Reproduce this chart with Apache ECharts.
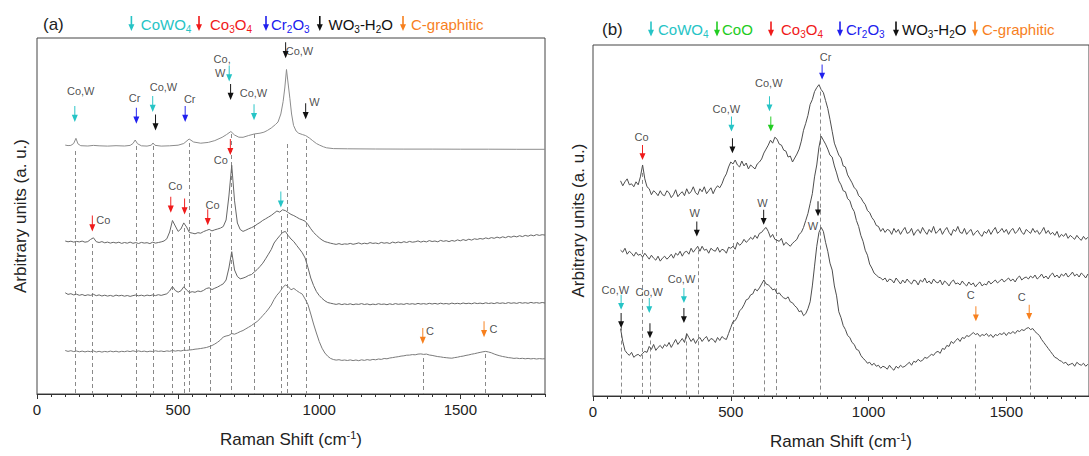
<!DOCTYPE html>
<html>
<head>
<meta charset="utf-8">
<script src="https://cdn.jsdelivr.net/npm/echarts@6.0.0/dist/echarts.min.js"></script>
<style>
  html, body { margin: 0; padding: 0; background: #fff; }
  #chart { width: 1089px; height: 456px; }
</style>
</head>
<body>
<div id="chart"></div>
<script>
// ---------------- data (Raman shift in cm-1, intensity in arbitrary units) ----------------

// x-axis labels shown on both panels
const shiftTicks = [0, 500, 1000, 1500];

// panel (a): top spectrum, smooth, listed as [shift, intensity]
const specA1 = [[100,248.9],[110,248.4],[120,248.6],[130,250.5],[138,255.7],[145,250.2],[155,248.3],[180,248.0],
  [200,248.6],[220,248.2],[250,247.9],[280,248.3],[310,248.0],[330,248.6],[340,250.5],[348,254],[356,250.3],
  [370,248.2],[390,247.9],[405,248.8],[411,251],[418,248.7],[440,247.9],[470,248.2],[500,248.8],[520,250.5],
  [539,255],[555,252.0],[580,250.8],[607,251.6],[630,253.4],[656,256.7],[672,259.5],[687,262.5],[700,259.0],
  [715,256.8],[730,256.7],[750,258.5],[771,260.1],[790,260.8],[804,261.8],[816,263.5],[830,266],[845,269.5],
  [854,272],[864,280],[872,292.3],[878,306],[884,324.5],[890,310],[896,295.7],[902,280],[909,268.6],[918,263],
  [927,260.8],[940,259.5],[952,258.4],[965,256],[977,253.3],[990,250.5],[1001,248.9],[1015,247.2],[1026,246.2],
  [1050,245.4],[1100,245.2],[1200,245.0],[1300,244.9],[1400,244.9],[1500,244.8],[1600,244.8],[1700,244.7],[1800,244.7]];

// panel (a): spectra sampled every 10 cm-1 starting at 100 cm-1
const A_START = 100, A_STEP = 10;
const specA2 = [
  153.0,152.2,152.8,151.9,152.6,152.1,152.9,151.8,152.4,154.6,
  156.2,152.3,151.5,152.4,151.2,151.9,150.9,151.7,151.0,151.8,
  150.6,151.5,150.8,151.9,150.7,151.4,150.5,151.6,150.9,151.3,
  150.4,151.8,150.9,151.5,152.1,153.0,155.2,162.0,173.5,168.0,
  162.6,165.0,171.1,167.0,161.5,160.9,160.2,161.3,160.8,162.4,
  163.5,164.6,163.1,164.2,165.0,165.9,167.5,174.0,198.0,228.7,
  193.2,171.0,164.5,162.6,163.8,165.2,166.4,167.7,169.8,171.5,
  173.6,175.2,176.9,178.6,180.8,183.0,181.9,184.2,183.4,181.5,
  179.6,178.4,176.8,175.2,174.1,172.8,169.5,165.3,161.6,158.8,
  156.2,154.0,152.4,151.6,150.8,150.2,149.6,150.4,149.5,150.1,
  149.8,150.6,149.7,150.3,151.1,150.0,150.8,150.2,151.4,150.6,
  151.0,150.3,151.6,150.8,151.3,150.5,151.9,151.1,152.0,151.2,
  152.3,151.5,152.6,151.8,152.2,153.1,151.9,152.8,152.1,153.4,
  152.5,153.0,152.2,153.6,152.7,153.3,152.4,153.5,152.8,154.1,
  153.2,154.4,153.5,154.8,153.9,155.2,154.6,155.5,154.9,156.1,
  155.3,156.4,155.7,156.9,156.0,157.2,156.3,157.6,156.8,157.9,
  157.1,158.3,157.4,158.6,157.8,159.0,158.2,159.4,158.6,159.3,
  158.9];
const specA3 = [
  101.2,99.6,100.3,99.1,99.8,98.7,99.5,98.4,99.2,98.6,
  99.7,98.3,99.1,98.0,98.8,97.9,98.6,97.7,98.9,98.1,
  98.7,97.8,98.5,97.6,98.4,99.0,98.2,98.8,98.0,98.9,
  98.3,99.1,98.4,99.3,98.6,99.4,100.2,103.0,107.5,103.5,
  101.8,103.2,107.2,104.0,101.5,102.3,101.7,103.0,102.4,103.6,
  105.5,106.2,104.4,105.8,107.0,108.6,110.2,114.0,126.0,142.3,
  124.0,117.5,115.2,115.9,117.0,118.6,119.5,122.0,124.4,127.5,
  130.8,135.2,139.8,144.5,151.0,154.8,158.2,161.5,162.6,158.5,
  155.0,152.4,148.6,145.0,141.2,136.0,126.5,116.0,108.5,102.5,
  98.5,95.6,93.2,91.5,90.8,90.2,89.6,90.3,89.4,90.1,
  89.5,90.2,89.3,90.0,89.6,90.4,89.5,90.1,89.2,89.9,
  89.4,90.3,89.6,90.0,89.3,90.2,89.5,90.4,89.7,90.1,
  89.6,90.5,89.8,90.3,89.7,90.6,89.9,90.4,89.8,90.7,
  90.0,90.6,89.9,90.8,90.1,90.5,89.9,90.9,90.2,90.7,
  90.1,91.0,90.3,90.8,90.2,91.1,90.4,90.9,90.3,91.2,
  90.5,91.0,90.4,91.3,90.6,91.1,90.5,91.4,90.7,91.2,
  90.6,91.5,90.8,91.3,90.7,91.6,90.9,91.4,90.8,91.5,
  91.0];
const specA4 = [
  43.5,42.6,43.3,42.4,43.0,42.2,42.9,42.1,42.8,42.3,
  43.1,42.0,42.7,41.9,42.6,42.1,42.9,42.2,42.8,42.0,
  42.7,42.3,43.0,42.4,43.2,42.5,43.1,42.4,42.9,42.2,
  42.8,42.5,43.2,42.6,43.0,42.4,43.1,42.7,43.5,42.9,
  43.4,43.0,43.8,43.6,44.0,44.3,44.8,45.1,45.5,46.0,
  46.5,47.4,48.5,50.0,51.8,54.0,57.0,58.0,58.6,60.5,
  59.8,61.0,62.4,63.5,65.2,66.8,68.5,70.6,72.5,75.2,
  78.4,81.5,85.0,89.0,94.5,98.8,102.0,106.2,109.1,107.5,
  104.2,105.6,103.4,101.5,99.9,95.0,89.5,80.0,70.0,61.0,
  52.5,45.8,41.0,37.8,35.6,34.5,33.9,34.3,33.6,34.0,
  33.5,34.1,33.4,34.0,33.3,34.2,33.6,34.4,33.8,34.6,
  34.2,35.0,34.6,35.5,35.2,36.0,36.4,36.9,37.3,37.9,
  38.2,38.8,38.9,39.4,39.2,39.9,40.1,39.6,39.9,39.0,
  38.6,38.0,37.4,37.1,36.6,36.3,36.0,35.8,36.4,36.8,
  37.5,37.9,38.6,39.1,39.8,40.3,41.0,41.6,42.2,42.6,
  42.0,41.2,40.0,39.0,38.2,37.5,37.0,36.4,36.1,35.6,
  35.9,35.4,35.7,35.2,35.6,35.1,35.5,35.0,35.4,35.1,
  35.3];

// panel (b): spectra sampled every 8 cm-1 starting at 100 cm-1
const B_START = 100, B_STEP = 8;
const specB1 = [
  217,212,216,219,213,214,211,216,213,221,
  233,219,211,209,203,207,205,202,207,203,
  202,207,205,200,203,208,201,204,206,202,
  209,204,206,211,205,203,209,206,211,204,
  207,210,204,209,212,210,214,220,224,231,
  236,234,238,233,231,237,232,235,229,233,
  231,229,234,236,239,245,249,253,258,255,
  261,259,254,253,248,247,241,242,236,240,
  244,249,257,268,275,283,294,299,307,311,
  314,309,306,298,290,279,267,255,249,243,
  240,232,231,223,219,215,210,208,202,200,
  196,193,187,185,180,177,172,171,166,169,
  165,168,167,163,169,165,
  168,163,167,170,164,165,169,162,166,168,
  164,170,166,163,168,165,171,164,166,169,
  163,167,170,165,162,168,166,171,165,164,
  169,163,166,168,162,165,167,163,161,166,
  164,168,163,167,170,164,166,169,165,168,
  163,167,169,164,166,170,165,163,168,166,
  164,169,165,167,163,166,170,164,167,163,
  165,162,166,160,163,161,164,159,162,160,
  158,162,159,157,161,158,160];
const specB2 = [
  147,145,149,143,146,144,141,145,142,143,
  140,144,141,138,142,139,137,141,136,139,
  141,138,140,143,139,144,142,146,141,145,
  146,143,149,145,148,151,146,151,147,148,
  144,149,147,146,150,145,148,147,144,150,
  149,151,148,155,152,154,158,155,157,160,
  158,162,159,164,165,168,170,166,160,163,
  158,157,156,159,152,155,153,151,154,156,
  158,163,165,170,177,184,194,204,221,233,
  251,262,258,254,249,243,241,232,225,217,
  213,207,206,199,197,190,186,177,171,162,
  156,147,142,133,129,124,122,120,119,117,
  119,115,118,117,114,119,
  116,113,117,114,118,115,113,117,116,112,
  117,115,119,114,116,113,118,115,114,117,
  112,116,114,111,115,117,113,114,112,116,
  113,111,115,112,114,110,113,115,111,113,
  112,116,113,115,117,114,116,118,115,117,
  119,116,118,115,119,121,117,119,120,118,
  121,119,122,118,120,123,119,121,118,122,
  124,120,122,119,123,121,124,120,122,125,
  121,123,120,124,122,119,123];
const specB3 = [
  68,55,46,43,41,44,39,41,42,40,
  43,45,44,50,47,52,46,49,51,48,
  52,50,54,49,53,57,52,55,58,54,
  63,59,55,58,53,57,59,55,58,60,
  55,58,57,54,59,56,60,58,57,63,
  69,75,76,80,86,88,92,97,98,102,
  103,108,106,109,113,117,113,112,110,107,
  108,103,104,101,99,98,100,95,94,91,
  89,85,86,81,83,88,95,111,131,151,
  165,170,166,155,146,134,127,111,101,85,
  79,71,67,61,59,54,52,47,46,41,
  38,36,33,34,31,33,30,31,28,30,
  29,27,31,28,26,30,28,31,29,30,
  32,34,31,35,34,37,35,36,39,38,
  40,42,41,44,45,43,48,47,51,50,
  55,53,56,58,55,59,58,61,60,62,
  64,62,63,60,62,61,63,60,62,59,
  62,61,63,62,64,61,64,63,65,63,
  66,65,67,66,68,69,67,68,65,63,
  61,57,54,51,48,45,42,39,38,36,
  35,33,34,31,32,33,30,34,32,31,
  33,30,32];

// dashed guide lines: [shift, top of the line]
const guidesA = [[136,243],[194,150],[351,248],[411,248],[480,164],[521,166],[539,251],[613,161],[690,260],
  [771,260],[866,178],[887,250],[953,255],[1369,36],[1589,40]];
const guidesB = [[102,70],[180,225],[208,56],[338,62],[382,147],[510,232],[622,157],[664,250],[826,307],
  [1386,52],[1587,60]];

// band markers (arrow tips) per phase: [shift, intensity]
const arrowsA_CoWO4 = [[134,272],[410,282],[681,312.6],[769,273.7],[864,186.4]];
const arrowsA_Co3O4 = [[196,162.6],[474,181.3],[523,179.6],[605,168.7],[685,238.9]];
const arrowsA_Cr2O3 = [[352,270.3],[525,272]];
const arrowsA_WO3 = [[420,263.5],[686,294],[881,335.7],[952,274.7]];
const arrowsA_C = [[1367,50],[1584,56.7]];

const arrowsB_CoWO4 = [[502.4,266.8],[640.4,287.1],[102,87.1],[204.2,83.7],[329.9,93.9]];
const arrowsB_CoO = [[645.3,266.8]];
const arrowsB_Co3O4 = [[179.6,238]];
const arrowsB_Cr2O3 = [[831.4,319.3]];
const arrowsB_WO3 = [[506,244.8],[376.7,160.9],[619.4,172.7],[816.6,181.2],[102,68.5],[206.7,58.3],[329.9,73.6]];
const arrowsB_C = [[1389.5,75.3],[1583,77]];

// band assignments written next to the markers: [shift, intensity, text]
const tagsA = [[155,303,'Co,W'],[346,296.4,'Cr'],[448,307.2,'Co,W'],[541,294.7,'Cr'],[656,334.7,'Co,'],[649,321,'W'],
  [767,300.8,'Co,W'],[930,343,'Co,W'],[983,292.3,'W'],[235,173.8,'Co'],[490,208.4,'Co'],[622,188.7,'Co'],
  [651,233.8,'Co'],[1392,62.8,'C'],[1617,65.2,'C']];
const tagsB = [[176,261.7,'Co'],[484,289.8,'Co,W'],[638,316,'Co,W'],[843.7,341.4,'Cr'],[369.3,184.6,'W'],
  [614.5,194.8,'W'],[798,171.7,'W'],[81,106.6,'Co,W'],[204,105,'Co,W'],[321.3,118.5,'Co,W'],
  [1371,101.5,'C'],[1556,99.8,'C']];

// phases named in each panel's key
const phasesA = ['CoWO4', 'Co3O4', 'Cr2O3', 'WO3-H2O', 'C-graphitic'];
const phasesB = ['CoWO4', 'CoO', 'Co3O4', 'Cr2O3', 'WO3-H2O', 'C-graphitic'];

// ---------------- styling ----------------
const FONT = '"Liberation Sans", Arial, Helvetica, sans-serif';
const TEXT = '#222';
const PHASE_COLOR = {
  'CoWO4': '#26c4c6', 'CoO': '#22cc22', 'Co3O4': '#f01a1a',
  'Cr2O3': '#2020ee', 'WO3-H2O': '#111111', 'C-graphitic': '#f7801e'
};
const ARROW_D = 'M4.2,0L5.8,0L5.8,11L10,11L5,20L0,11L4.2,11Z';

const toPairs = (vals, start, step) => vals.map((v, i) => [start + i * step, v]);
const chemRich = name => name.replace(/(\d)/g, '{s|$1}');

function spectrum(data, axis, color) {
  return {
    type: 'line', xAxisIndex: axis * 2, yAxisIndex: axis, data: data,
    showSymbol: false, symbol: 'none', silent: true, z: 3,
    lineStyle: { color: color, width: 1 }
  };
}
function guides(list, axis) {
  return {
    type: 'lines', coordinateSystem: 'cartesian2d', xAxisIndex: axis * 2, yAxisIndex: axis,
    silent: true, z: 1,
    lineStyle: { color: '#8a8a8a', width: 1, type: [4, 3], opacity: 1, curveness: 0 },
    data: list.map(g => ({ coords: [[g[0], g[1]], [g[0], 0]] }))
  };
}
function arrows(list, phase, axis, h) {
  return {
    type: 'scatter', xAxisIndex: axis * 2, yAxisIndex: axis, data: list, silent: true, z: 5,
    symbol: 'path://' + ARROW_D, symbolSize: [6, h], symbolOffset: [0, -h / 2],
    itemStyle: { color: PHASE_COLOR[phase], opacity: 1 }
  };
}
function tags(list, axis) {
  return {
    type: 'scatter', xAxisIndex: axis * 2, yAxisIndex: axis, silent: true, z: 6,
    symbolSize: 1, itemStyle: { color: 'rgba(0,0,0,0)' },
    data: list.map(t => ({ value: [t[0], t[1]], name: t[2] })),
    label: { show: true, position: 'inside', formatter: '{b}', color: TEXT, fontSize: 11, fontFamily: FONT }
  };
}
function xAxes(grid, gap) {
  return [{
    type: 'value', gridIndex: grid, position: 'bottom', min: 0, max: 1800, interval: 500,
    axisLine: { show: true, lineStyle: { color: '#333', width: 1 } },
    axisTick: { show: true, inside: false, length: 5, lineStyle: { color: '#333' } },
    axisLabel: {
      show: true, fontSize: 15, color: TEXT, fontFamily: FONT, margin: 8, showMaxLabel: false,
      formatter: v => (shiftTicks.indexOf(v) >= 0 ? String(v) : '')
    },
    splitLine: { show: false },
    name: 'Raman Shift (cm{sup|-1})', nameLocation: 'middle', nameGap: gap,
    nameTextStyle: {
      fontSize: 17, color: TEXT, fontFamily: FONT, lineHeight: 20,
      rich: { sup: { fontSize: 11, color: TEXT, fontFamily: FONT, verticalAlign: 'top', lineHeight: 11 } }
    }
  }, {
    type: 'value', gridIndex: grid, position: 'bottom', min: 0, max: 1800, interval: 50,
    axisLine: { show: false }, axisLabel: { show: false }, splitLine: { show: false },
    axisTick: { show: true, inside: false, length: 3, lineStyle: { color: '#333' } }
  }];
}
function yAxis(grid, max, gap) {
  return {
    type: 'value', gridIndex: grid, min: 0, max: max,
    axisLine: { show: false }, axisTick: { show: false }, axisLabel: { show: false }, splitLine: { show: false },
    name: 'Arbitrary units (a. u.)', nameLocation: 'middle', nameGap: gap,
    nameTextStyle: { fontSize: 17, color: TEXT, fontFamily: FONT }
  };
}
// panel key: small arrow followed by the phase name
function arrowPoints(cx, top, h) {
  const head = top + h * 0.55;
  return [[cx - 0.8, top], [cx + 0.8, top], [cx + 0.8, head], [cx + 3, head], [cx, top + h],
          [cx - 3, head], [cx - 0.8, head]];
}
function key(phases, arrowX, textX, y) {
  const els = [];
  phases.forEach((p, i) => {
    const c = PHASE_COLOR[p];
    els.push({
      type: 'polygon', silent: true,
      shape: { points: arrowPoints(arrowX[i], y - 8, 15) },
      style: { fill: c }
    });
    els.push({
      type: 'text', silent: true, x: textX[i], y: y,
      style: {
        text: chemRich(p), fill: c, fontSize: 15, fontFamily: FONT, lineHeight: 20,
        verticalAlign: 'middle', align: 'left',
        rich: { s: { fontSize: 10, fontFamily: FONT, fill: c, verticalAlign: 'bottom', lineHeight: 11 } }
      }
    });
  });
  return els;
}

const graphic = [
  { type: 'text', silent: true, x: 43, y: 24,
    style: { text: '(a)', fill: TEXT, fontSize: 17, fontFamily: FONT, verticalAlign: 'middle' } },
  { type: 'text', silent: true, x: 602, y: 29.5,
    style: { text: '(b)', fill: TEXT, fontSize: 17, fontFamily: FONT, verticalAlign: 'middle' } }
].concat(
  key(phasesA, [131.4, 199, 266, 319.8, 403], [140.8, 210, 271, 328.5, 411], 24),
  key(phasesB, [651, 717, 771, 840, 896, 975], [658, 722, 781, 846, 902, 982], 29.5)
);

const option = {
  backgroundColor: '#ffffff',
  animation: false,
  grid: [
    { left: 37, top: 38, width: 508, height: 356, show: true, borderColor: '#444', borderWidth: 1 },
    { left: 593, top: 45, width: 507, height: 354, show: true, borderColor: '#444', borderWidth: 1 }
  ],
  xAxis: xAxes(0, 35).concat(xAxes(1, 35)),
  yAxis: [yAxis(0, 356, 8), yAxis(1, 354, 6)],
  graphic: graphic,
  series: [
    guides(guidesA, 0),
    guides(guidesB, 1),
    spectrum(specA1, 0, '#8c8c8c'),
    spectrum(toPairs(specA2, A_START, A_STEP), 0, '#676767'),
    spectrum(toPairs(specA3, A_START, A_STEP), 0, '#676767'),
    spectrum(toPairs(specA4, A_START, A_STEP), 0, '#7a7a7a'),
    spectrum(toPairs(specB1, B_START, B_STEP), 1, '#4e4e4e'),
    spectrum(toPairs(specB2, B_START, B_STEP), 1, '#4e4e4e'),
    spectrum(toPairs(specB3, B_START, B_STEP), 1, '#4e4e4e'),
    arrows(arrowsA_CoWO4, 'CoWO4', 0, 16),
    arrows(arrowsA_Co3O4, 'Co3O4', 0, 16),
    arrows(arrowsA_Cr2O3, 'Cr2O3', 0, 16),
    arrows(arrowsA_WO3, 'WO3-H2O', 0, 16),
    arrows(arrowsA_C, 'C-graphitic', 0, 16),
    arrows(arrowsB_CoWO4, 'CoWO4', 1, 15),
    arrows(arrowsB_CoO, 'CoO', 1, 15),
    arrows(arrowsB_Co3O4, 'Co3O4', 1, 15),
    arrows(arrowsB_Cr2O3, 'Cr2O3', 1, 15),
    arrows(arrowsB_WO3, 'WO3-H2O', 1, 15),
    arrows(arrowsB_C, 'C-graphitic', 1, 15),
    tags(tagsA, 0),
    tags(tagsB, 1)
  ]
};

const chart = echarts.init(document.getElementById('chart'), null, { renderer: 'svg', width: 1089, height: 456 });
chart.setOption(option);
</script>
</body>
</html>
